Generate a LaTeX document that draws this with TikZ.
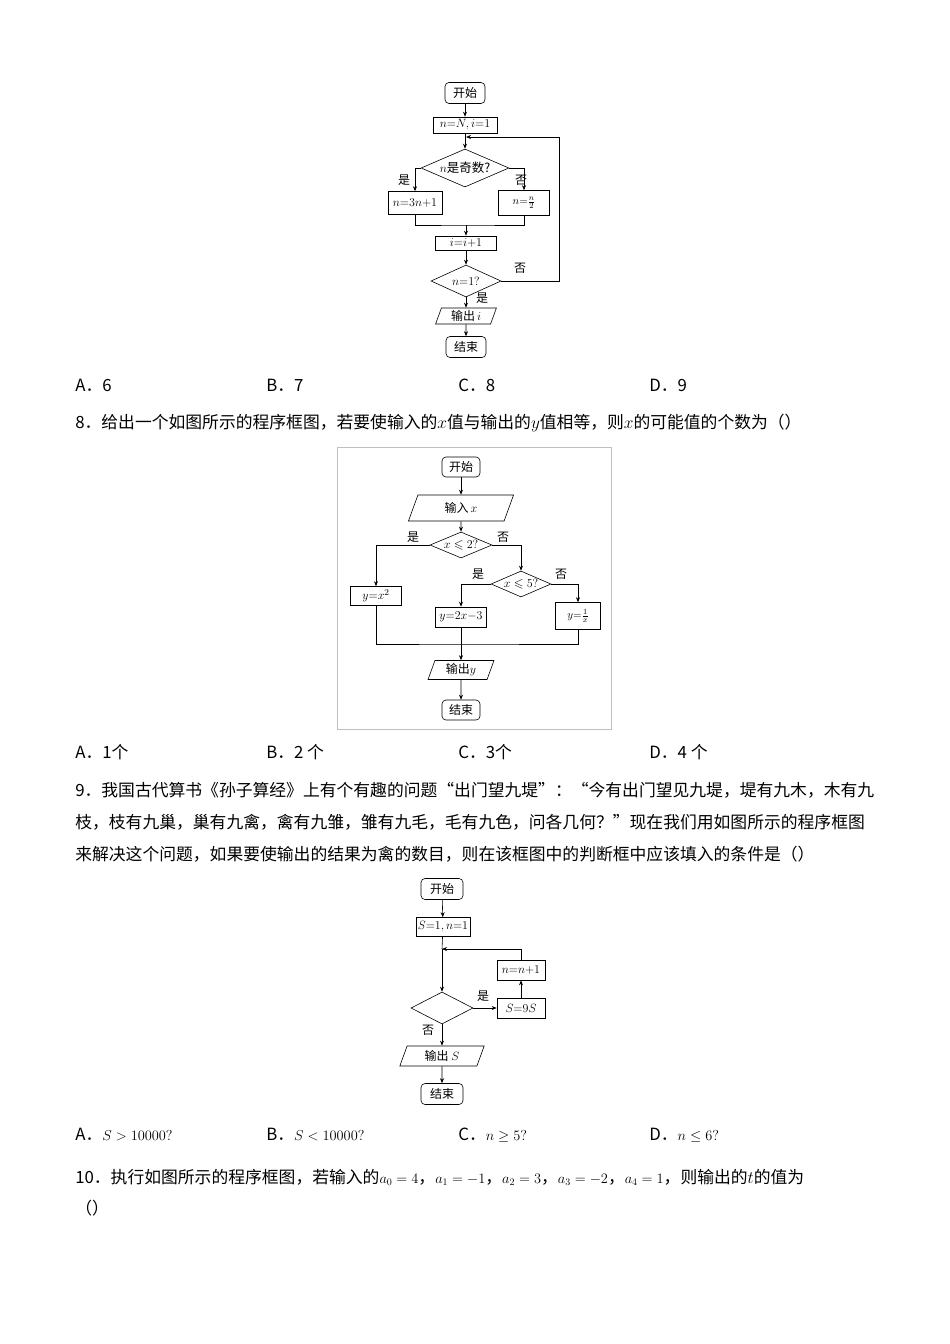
\documentclass[tikz,border=0pt]{standalone}
\usepackage{fontspec}
\usepackage{amssymb,amsmath}
\setmainfont{Noto Sans CJK SC}
\usetikzlibrary{shapes.geometric,arrows.meta}
\begin{document}
\begin{tikzpicture}[x=1pt,y=-1pt,
  line width=0.6pt,
  every node/.style={inner sep=0pt},
  term/.style={draw,rounded corners=4pt,minimum width=40pt,minimum height=21pt,font=\fontsize{12}{12}\selectfont},
  proc/.style={draw,minimum height=16pt,font=\fontsize{13}{13}\selectfont},
  dec/.style={draw,diamond,aspect=2.4,inner sep=0pt,font=\fontsize{12.5}{12.5}\selectfont},
  io/.style={draw,trapezium,trapezium left angle=70,trapezium right angle=110,inner xsep=2pt,minimum height=16pt,font=\fontsize{12}{12}\selectfont},
  lab/.style={font=\fontsize{12}{12}\selectfont},
  body/.style={anchor=west,font=\fontsize{16.8}{16.8}\selectfont},
  arr/.style={-{Stealth[length=5pt,width=4pt]}}]
\useasboundingbox[fill=white] (0,0) rectangle (950,1344);

% ===== Chart 1 =====
\node[term] (a1) at (465,93) {开始};
\node[proc,minimum width=64pt] (a2) at (465,125) {$n{=}N,i{=}1$};
\node[dec,minimum width=88pt,minimum height=38pt] (a3) at (465,168) {$n$是奇数?};
\node[proc,minimum width=54pt,minimum height=23pt] (a4) at (415,203) {$n{=}3n{+}1$};
\node[proc,minimum width=51pt,minimum height=25pt] (a5) at (524,203) {\fontsize{11}{11}\selectfont$n{=}\tfrac{n}{2}$};
\node[proc,minimum width=61pt,minimum height=14pt] (a6) at (466,243) {$i{=}i{+}1$};
\node[dec,minimum width=70pt,minimum height=32pt] (a7) at (466,281) {$n{=}1?$};
\node[io,minimum width=40pt] (a8) at (466,316) {输出$\,i$};
\node[term] (a9) at (466,347) {结束};
\coordinate (m1) at (466,225);
\coordinate (j1) at (466,137);
\draw[arr] (a1) -- (a2);
\draw[arr] (a2) -- (a3);
\draw[arr] (a3.west) -| (a4.north);
\draw[arr] (a3.east) -| (a5.north);
\draw (a4.south) |- (m1) -| (a5.south);
\draw[arr] (m1) -- (a6);
\draw[arr] (a6) -- (a7);
\draw[arr] (a7) -- (a8);
\draw[arr] (a8) -- (a9);
\draw[arr] (a7.east) -- (559,281) -- (559,137) -- (j1);
\node[lab] at (404,180) {是};
\node[lab] at (521,180) {否};
\node[lab] at (520,268) {否};
\node[lab] at (482,298) {是};

\node[body] at (75,385) {A．6};
\node[body] at (266,385) {B．7};
\node[body] at (458,385) {C．8};
\node[body] at (649,385) {D．9};
\node[body] at (75,423) {8．给出一个如图所示的程序框图，若要使输入的$x$值与输出的$y$值相等，则$x$的可能值的个数为（）};

% ===== Chart 2 =====
\draw[gray!50] (337,447) rectangle (611,729);
\node[term,minimum width=38pt,minimum height=20pt] (b1) at (461,467) {开始};
\node[io,minimum width=40pt,minimum height=26pt] (b2) at (461,508) {输入$\,x$};
\node[dec,minimum width=62pt,minimum height=26pt] (b3) at (461,545) {$x\leqslant2?$};
\node[proc,minimum width=51pt,minimum height=19pt] (b4) at (376,596) {$y{=}x^2$};
\node[dec,minimum width=60pt,minimum height=26pt] (b5) at (521,584) {$x\leqslant5?$};
\node[proc,minimum width=51pt,minimum height=20pt] (b6) at (461,617) {$y{=}2x{-}3$};
\node[proc,minimum width=45pt,minimum height=27pt] (b7) at (578,616) {\fontsize{11}{11}\selectfont$y{=}\tfrac{1}{x}$};
\node[io,minimum width=38pt,minimum height=19pt] (b8) at (461,670) {输出$y$};
\node[term,minimum width=38pt,minimum height=20pt] (b9) at (461,710) {结束};
\coordinate (m2) at (461,644);
\draw[arr] (b1) -- (b2);
\draw[arr] (b2) -- (b3);
\draw[arr] (b3.west) -| (b4.north);
\draw[arr] (b3.east) -| (b5.north);
\draw[arr] (b5.west) -| (b6.north);
\draw[arr] (b5.east) -| (b7.north);
\draw (b4.south) |- (m2) -| (b7.south);
\draw[arr] (b6) -- (b8);
\draw[arr] (b8) -- (b9);
\node[lab] at (413,537) {是};
\node[lab] at (503,537) {否};
\node[lab] at (478,574) {是};
\node[lab] at (561,574) {否};

\node[body] at (75,752) {A．1个};
\node[body] at (266,752) {B．2 个};
\node[body] at (458,752) {C．3个};
\node[body] at (649,752) {D．4 个};
\node[body] at (75,790) {9．我国古代算书《孙子算经》上有个有趣的问题“出门望九堤”：“今有出门望见九堤，堤有九木，木有九};
\node[body] at (75,822) {枝，枝有九巢，巢有九禽，禽有九雏，雏有九毛，毛有九色，问各几何？”现在我们用如图所示的程序框图};
\node[body] at (75,854) {来解决这个问题，如果要使输出的结果为禽的数目，则在该框图中的判断框中应该填入的条件是（）};

% ===== Chart 3 =====
\node[term,minimum width=42pt] (c1) at (442,889) {开始};
\node[proc,minimum width=54pt,minimum height=19pt] (c2) at (443,927) {$S{=}1,n{=}1$};
\node[dec,minimum width=62pt,minimum height=32pt] (c3) at (442,1008) {};
\node[proc,minimum width=48pt,minimum height=20pt] (c4) at (521,1008) {$S{=}9S$};
\node[proc,minimum width=48pt,minimum height=20pt] (c5) at (521,970) {$n{=}n{+}1$};
\node[io,minimum width=56pt,minimum height=20pt] (c6) at (442,1056) {输出 $S$};
\node[term,minimum width=42pt] (c7) at (442,1094) {结束};
\coordinate (j3) at (442,949);
\draw (c2) -- (j3);
\draw[arr] (j3) -- (c3);
\draw[arr] (c3.east) -- (c4.west);
\draw[arr] (c4) -- (c5);
\draw[arr] (c5.north) |- (j3);
\draw[arr] (c3) -- (c6);
\draw[arr] (c6) -- (c7);
\draw[arr] (c1) -- (c2);
\node[lab] at (483,996) {是};
\node[lab] at (428,1030) {否};

\node[body] at (75,1135) {A．\Large$S>10000?$};
\node[body] at (266,1135) {B．\Large$S<10000?$};
\node[body] at (458,1135) {C．\Large$n\geq5?$};
\node[body] at (649,1135) {D．\Large$n\leq6?$};
\node[body] at (75,1177) {10．执行如图所示的程序框图，若输入的{\Large$a_0=4$}，{\Large$a_1=-1$}，{\Large$a_2=3$}，{\Large$a_3=-2$}，{\Large$a_4=1$}，则输出的$t$的值为};
\node[body] at (75,1208) {（）};
\end{tikzpicture}
\end{document}
